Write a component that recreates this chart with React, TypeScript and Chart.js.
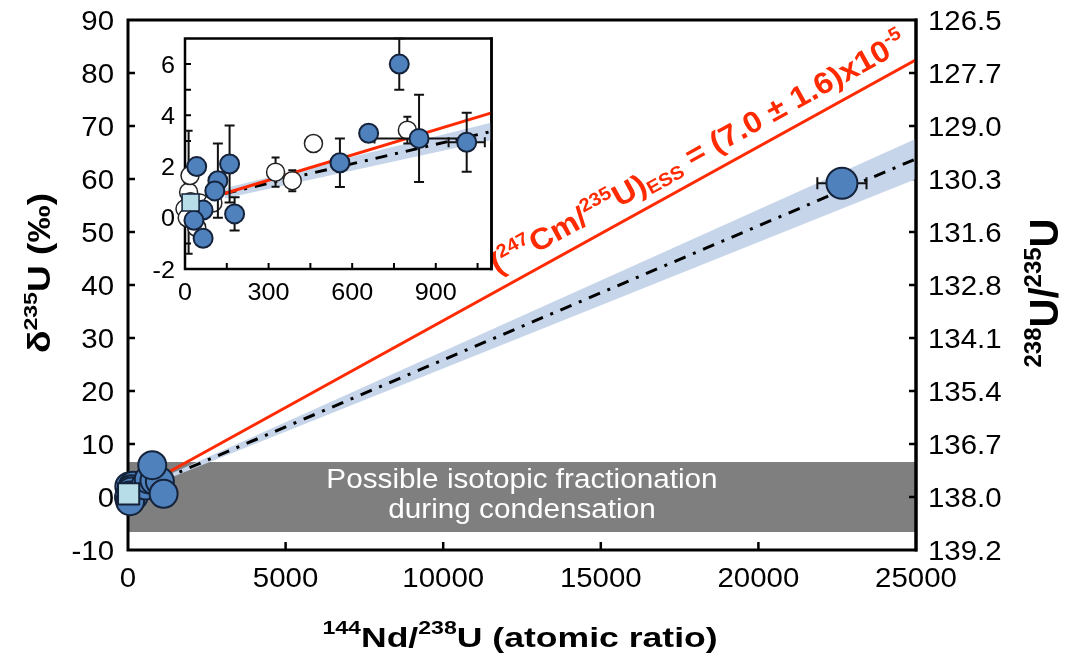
import React, { useEffect, useRef } from 'react';
import { Chart, registerables } from 'chart.js';
Chart.register(...registerables);

// ---------------- data ----------------
const xTicks = [0, 5000, 10000, 15000, 20000, 25000];
const xTickLabels = ['0', '5000', '10000', '15000', '20000', '25000'];
const yTicks = [-10, 0, 10, 20, 30, 40, 50, 60, 70, 80, 90];
const yTickLabels = ['-10', '0', '10', '20', '30', '40', '50', '60', '70', '80', '90'];
const rightTickLabels = ['139.2', '138.0', '136.7', '135.4', '134.1', '132.8', '131.6', '130.3', '129.0', '127.7', '126.5'];

const insetXTicks = [0, 150, 300, 450, 600, 750, 900, 1050];
const insetXLabels = ['0', '', '300', '', '600', '', '900', ''];
const insetYTicks = [-2, -1, 0, 1, 2, 3, 4, 5, 6, 7];
const insetYLabels = ['-2', '', '0', '', '2', '', '4', '', '6', ''];

// fractionation zone (delta 235U)
const fractionationZone = [-6.6, 6.6];

// fitted lines (end points)
const lineX = [142, 25000];
const redLineY = [0.95, 82.5];
const trendLineY = [0.95, 63.8];
const bandUpperY = [1.15, 67.6];
const bandLowerY = [0.75, 60.0];

// blue (filled) samples
const blueX = [42, 160, 178, 118, 107, 65, 32, 65, 556, 659, 840, 1011, 769];
const blueY = [2.0, 2.1, 0.15, 1.45, 1.05, 0.3, -0.1, -0.8, 2.15, 3.3, 3.1, 2.95, 6.0];
const blueErrY = [0, 1.5, 0.65, 1.45, 0, 0, 0, 0, 0.95, 0, 1.7, 1.15, 1.0];
const blueErrX = [0, 0, 0, 0, 0, 0, 0, 0, 0, 0, 160, 65, 0];

// white (open) samples
const whiteX = [325, 385, 461, 798, 13, 18, 20, 0, 53, 42, 100, 8];
const whiteY = [1.78, 1.45, 2.9, 3.42, 1.0, 1.65, 0.63, 0.35, 0.58, -0.38, 0.58, 0.0];
const whiteErrY = [0.57, 0.41, 0, 0.52, 2.4, 0, 0, 0, 0, 0, 0, 0];
const whiteErrX = [0, 0, 0, 20, 0, 0, 0, 0, 0, 0, 0, 0];

// extra samples visible only in main panel
const extraX = [1130];
const extraY = [0.6];

// high Nd/U sample
const bigX = [22650];
const bigY = [59.2];
const bigErrX = [780];

// reference square
const squareX = [20];
const squareY = [0.6];

// ---------------- helpers ----------------
const FONT = "'Liberation Sans', Arial, Helvetica, sans-serif";
type Mode = 'n' | 'sup' | 'sub';
type Seg = [string, Mode];

function drawRich(
  ctx: CanvasRenderingContext2D,
  segs: Seg[],
  x: number,
  y: number,
  o: { size: number; bold?: boolean; color: string; align?: 'left' | 'center' | 'right'; stretch?: number; rotate?: number; supScale?: number; supRise?: number; subDrop?: number }
) {
  const weight = o.bold ? 'bold ' : '';
  const sc = o.supScale ?? 0.62;
  const fontFor = (m: Mode) => `${weight}${m === 'n' ? o.size : (o.size * sc).toFixed(1)}px ${FONT}`;
  let total = 0;
  const widths = segs.map(([t, m]) => {
    ctx.font = fontFor(m);
    const w = ctx.measureText(t).width;
    total += w;
    return w;
  });
  ctx.save();
  ctx.translate(x, y);
  if (o.rotate) ctx.rotate(o.rotate);
  ctx.scale(o.stretch ?? 1, 1);
  let cx = o.align === 'center' ? -total / 2 : o.align === 'right' ? -total : 0;
  ctx.fillStyle = o.color;
  ctx.textBaseline = 'alphabetic';
  ctx.textAlign = 'left';
  segs.forEach(([t, m], i) => {
    ctx.font = fontFor(m);
    const dy = m === 'sup' ? -(o.supRise ?? 0.42) * o.size : m === 'sub' ? (o.subDrop ?? 0.15) * o.size : 0;
    ctx.fillText(t, cx, dy);
    cx += widths[i];
  });
  ctx.restore();
}

const pts = (xs: number[], ys: number[]) => xs.map((x, i) => ({ x, y: ys[i] }));

const errorBarPlugin = {
  id: 'errorBars',
  beforeDatasetDraw(chart: any, args: any) {
    const ds: any = chart.data.datasets[args.index];
    if (!ds.errY && !ds.errX) return;
    const ctx: CanvasRenderingContext2D = chart.ctx;
    const xs = chart.scales.x;
    const ys = chart.scales.y;
    const cap = ds.capSize ?? 5;
    ctx.save();
    ctx.strokeStyle = '#111';
    ctx.lineWidth = ds.errWidth ?? 2;
    ds.data.forEach((p: any, i: number) => {
      const px = xs.getPixelForValue(p.x);
      const py = ys.getPixelForValue(p.y);
      const ey = ds.errY ? ds.errY[i] : 0;
      const ex = ds.errX ? ds.errX[i] : 0;
      ctx.beginPath();
      if (ey > 0) {
        const y1 = ys.getPixelForValue(p.y + ey);
        const y2 = ys.getPixelForValue(p.y - ey);
        ctx.moveTo(px, y1); ctx.lineTo(px, y2);
        ctx.moveTo(px - cap, y1); ctx.lineTo(px + cap, y1);
        ctx.moveTo(px - cap, y2); ctx.lineTo(px + cap, y2);
      }
      if (ex > 0) {
        const x1 = xs.getPixelForValue(p.x - ex);
        const x2 = xs.getPixelForValue(p.x + ex);
        ctx.moveTo(x1, py); ctx.lineTo(x2, py);
        ctx.moveTo(x1, py - cap); ctx.lineTo(x1, py + cap);
        ctx.moveTo(x2, py - cap); ctx.lineTo(x2, py + cap);
      }
      ctx.stroke();
    });
    ctx.restore();
  },
};

const BLUE = '#4f81bd';
const BLUE_EDGE = '#14223a';
const BAND = '#c6d5ea';
const RED = '#ff2a00';

function lineDatasets() {
  return [
    { label: 'bandLower', data: pts(lineX, bandLowerY), showLine: true, pointRadius: 0, borderWidth: 0, borderColor: 'rgba(0,0,0,0)', fill: false, order: 10 },
    { label: 'bandUpper', data: pts(lineX, bandUpperY), showLine: true, pointRadius: 0, borderWidth: 0, borderColor: 'rgba(0,0,0,0)', backgroundColor: BAND, fill: '-1', order: 9 },
    { label: 'trend', data: pts(lineX, trendLineY), showLine: true, pointRadius: 0, borderWidth: 3, borderColor: '#000', borderDash: [12, 8, 3, 8], fill: false, order: 8 },
    { label: 'red', data: pts(lineX, redLineY), showLine: true, pointRadius: 0, borderWidth: 3, borderColor: RED, fill: false, order: 7 },
  ];
}

export default function App() {
  const mainRef = useRef<HTMLCanvasElement>(null);
  const insetRef = useRef<HTMLCanvasElement>(null);

  useEffect(() => {
    // ---------- main chart ----------
    const mainDecor = {
      id: 'mainDecor',
      beforeDatasetsDraw(chart: any) {
        const ctx: CanvasRenderingContext2D = chart.ctx;
        const { left, right, top, bottom } = chart.chartArea;
        const xs = chart.scales.x;
        const ys = chart.scales.y;
        // gray zone
        const gy1 = ys.getPixelForValue(fractionationZone[1]);
        const gy2 = ys.getPixelForValue(fractionationZone[0]);
        ctx.save();
        ctx.fillStyle = '#7f7f7f';
        ctx.fillRect(left, gy1, right - left, gy2 - gy1);
        const gc = (gy1 + gy2) / 2;
        drawRich(ctx, [['Possible isotopic fractionation', 'n']], (left + right) / 2, gc - 9, { size: 27, color: '#fff', align: 'center', stretch: 1.1 });
        drawRich(ctx, [['during condensation', 'n']], (left + right) / 2, gc + 21, { size: 27, color: '#fff', align: 'center', stretch: 1.1 });
        // frame
        ctx.strokeStyle = '#000';
        ctx.lineWidth = 3;
        ctx.strokeRect(left, top, right - left, bottom - top);
        ctx.lineWidth = 2.5;
        ctx.beginPath();
        yTicks.forEach((v) => {
          const py = ys.getPixelForValue(v);
          if (py <= top + 1 || py >= bottom - 1) return;
          ctx.moveTo(left, py); ctx.lineTo(left + 7, py);
          ctx.moveTo(right, py); ctx.lineTo(right - 7, py);
        });
        xTicks.forEach((v) => {
          const px = xs.getPixelForValue(v);
          if (px <= left + 1 || px >= right - 1) return;
          ctx.moveTo(px, bottom); ctx.lineTo(px, bottom - 8);
        });
        ctx.stroke();
        // tick labels
        yTicks.forEach((v, i) => {
          const py = ys.getPixelForValue(v);
          drawRich(ctx, [[yTickLabels[i], 'n']], left - 14, py + 9.5, { size: 27, color: '#000', align: 'right', stretch: 1.09 });
          drawRich(ctx, [[rightTickLabels[i], 'n']], right + 12, py + 9.5, { size: 27, color: '#000', align: 'left', stretch: 1.09 });
        });
        xTicks.forEach((v, i) => {
          const px = xs.getPixelForValue(v);
          drawRich(ctx, [[xTickLabels[i], 'n']], px, bottom + 37, { size: 27, color: '#000', align: 'center', stretch: 1.09 });
        });
        // axis titles
        drawRich(ctx, [['144', 'sup'], ['Nd/', 'n'], ['238', 'sup'], ['U (atomic ratio)', 'n']], (left + right) / 2 - 2, 647, { size: 28, bold: true, color: '#000', align: 'center', stretch: 1.27, supScale: 0.65, supRise: 0.45 });
        drawRich(ctx, [['δ', 'n'], ['235', 'sup'], ['U (‰)', 'n']], 50, (top + bottom) / 2 - 12, { size: 31, bold: true, color: '#000', align: 'center', stretch: 1.2, rotate: -Math.PI / 2, supScale: 0.62, supRise: 0.42 });
        drawRich(ctx, [['238', 'sup'], ['U/', 'n'], ['235', 'sup'], ['U', 'n']], 1058, (top + bottom) / 2 + 8, { size: 40, bold: true, color: '#000', align: 'center', stretch: 1.0, rotate: -Math.PI / 2, supScale: 0.6, supRise: 0.42 });
        ctx.restore();
      },
      afterDatasetsDraw(chart: any) {
        const ctx: CanvasRenderingContext2D = chart.ctx;
        const { right, top, bottom } = chart.chartArea;
        const xs = chart.scales.x;
        const ys = chart.scales.y;
        ctx.save();
        ctx.strokeStyle = '#000';
        ctx.lineWidth = 3;
        ctx.beginPath();
        ctx.moveTo(right, top - 1.5); ctx.lineTo(right, bottom + 1.5);
        ctx.stroke();
        // red label along the red line
        const x1 = xs.getPixelForValue(lineX[0]);
        const y1 = ys.getPixelForValue(redLineY[0]);
        const x2 = xs.getPixelForValue(lineX[1]);
        const y2 = ys.getPixelForValue(redLineY[1]);
        const ang = Math.atan2(y2 - y1, x2 - x1);
        const t = (504 - x1) / (x2 - x1);
        const bx = x1 + t * (x2 - x1);
        const by = y1 + t * (y2 - y1);
        const off = 14;
        const sx = bx + off * Math.sin(ang);
        const sy = by - off * Math.cos(ang);
        drawRich(
          ctx,
          [['(', 'n'], ['247', 'sup'], ['Cm/', 'n'], ['235', 'sup'], ['U)', 'n'], ['ESS', 'sub'], [' = (7.0 ± 1.6)x10', 'n'], ['-5', 'sup']],
          sx, sy,
          { size: 30, bold: true, color: RED, align: 'left', stretch: 1.08, rotate: ang, supScale: 0.62, supRise: 0.42, subDrop: 0.14 }
        );
        ctx.restore();
      },
    };

    const main = new Chart(mainRef.current!, {
      type: 'scatter',
      data: {
        datasets: [
          ...lineDatasets(),
          { label: 'blue', data: pts([...blueX, ...extraX], [...blueY, ...extraY]), pointRadius: 14, pointBackgroundColor: BLUE, pointBorderColor: BLUE_EDGE, pointBorderWidth: 2, clip: false, order: 3 } as any,
          { label: 'big', data: pts(bigX, bigY), errX: bigErrX, capSize: 6, pointRadius: 15.5, pointBackgroundColor: BLUE, pointBorderColor: BLUE_EDGE, pointBorderWidth: 2, clip: false, order: 3 } as any,
          { label: 'square', data: pts(squareX, squareY), pointStyle: 'rect', pointRadius: 15, pointBackgroundColor: '#b7dde8', pointBorderColor: BLUE_EDGE, pointBorderWidth: 2, clip: false, order: 1 } as any,
        ],
      },
      options: {
        responsive: false,
        animation: false,
        devicePixelRatio: 1,
        events: [],
        layout: { padding: { left: 128, right: 151, top: 20, bottom: 103 } },
        plugins: { legend: { display: false }, tooltip: { enabled: false } },
        scales: {
          x: { type: 'linear', min: 0, max: 25000, display: false },
          y: { type: 'linear', min: -10, max: 90, display: false },
        },
      } as any,
      plugins: [mainDecor, errorBarPlugin],
    });

    // ---------- inset chart ----------
    const insetDecor = {
      id: 'insetDecor',
      beforeDatasetsDraw(chart: any) {
        const ctx: CanvasRenderingContext2D = chart.ctx;
        const { left, right, top, bottom } = chart.chartArea;
        const xs = chart.scales.x;
        const ys = chart.scales.y;
        ctx.save();
        ctx.fillStyle = '#fff';
        ctx.fillRect(left, top, right - left, bottom - top);
        ctx.strokeStyle = '#000';
        ctx.lineWidth = 2.5;
        ctx.strokeRect(left, top, right - left, bottom - top);
        ctx.lineWidth = 2;
        ctx.beginPath();
        insetYTicks.forEach((v) => {
          const py = ys.getPixelForValue(v);
          if (py <= top + 1 || py >= bottom - 1) return;
          ctx.moveTo(left, py); ctx.lineTo(left + 6, py);
        });
        insetXTicks.forEach((v) => {
          const px = xs.getPixelForValue(v);
          if (px <= left + 1 || px >= right - 1) return;
          ctx.moveTo(px, bottom); ctx.lineTo(px, bottom - 6);
        });
        ctx.stroke();
        insetYTicks.forEach((v, i) => {
          if (!insetYLabels[i]) return;
          drawRich(ctx, [[insetYLabels[i], 'n']], left - 10, ys.getPixelForValue(v) + 8.5, { size: 24, color: '#000', align: 'right', stretch: 1.05 });
        });
        insetXTicks.forEach((v, i) => {
          if (!insetXLabels[i]) return;
          drawRich(ctx, [[insetXLabels[i], 'n']], xs.getPixelForValue(v), bottom + 31, { size: 24, color: '#000', align: 'center', stretch: 1.05 });
        });
        ctx.restore();
      },
      afterDatasetsDraw(chart: any) {
        const ctx: CanvasRenderingContext2D = chart.ctx;
        const { right, top, bottom } = chart.chartArea;
        ctx.save();
        ctx.strokeStyle = '#000';
        ctx.lineWidth = 2.5;
        ctx.beginPath();
        ctx.moveTo(right, top - 1.25); ctx.lineTo(right, bottom + 1.25);
        ctx.stroke();
        ctx.restore();
      },
    };

    const inset = new Chart(insetRef.current!, {
      type: 'scatter',
      data: {
        datasets: [
          ...lineDatasets(),
          { label: 'white', data: pts(whiteX, whiteY), errY: whiteErrY, errX: whiteErrX, capSize: 4, pointRadius: 9, pointBackgroundColor: '#fff', pointBorderColor: '#222', pointBorderWidth: 1.5, clip: false, order: 4 } as any,
          { label: 'blue', data: pts(blueX, blueY), errY: blueErrY, errX: blueErrX, capSize: 5, pointRadius: 9.5, pointBackgroundColor: BLUE, pointBorderColor: BLUE_EDGE, pointBorderWidth: 2, clip: false, order: 3 } as any,
          { label: 'square', data: pts(squareX, squareY), pointStyle: 'rect', pointRadius: 12, pointBackgroundColor: '#b7dde8', pointBorderColor: BLUE_EDGE, pointBorderWidth: 1.5, clip: false, order: 1 } as any,
        ],
      },
      options: {
        responsive: false,
        animation: false,
        devicePixelRatio: 1,
        events: [],
        layout: { padding: { left: 45, right: 12, top: 8, bottom: 46 } },
        plugins: { legend: { display: false }, tooltip: { enabled: false } },
        scales: {
          x: { type: 'linear', min: 0, max: 1100, display: false },
          y: { type: 'linear', min: -2, max: 7, display: false },
        },
      } as any,
      plugins: [insetDecor, errorBarPlugin],
    });

    return () => {
      main.destroy();
      inset.destroy();
    };
  }, []);

  return (
    <div style={{ position: 'absolute', left: 0, top: 0, width: 1067, height: 653, background: '#fff', overflow: 'hidden' }}>
      <canvas ref={mainRef} width={1067} height={653} style={{ position: 'absolute', left: 0, top: 0, width: 1067, height: 653 }} />
      <canvas ref={insetRef} width={365} height={290} style={{ position: 'absolute', left: 140, top: 25, width: 365, height: 290 }} />
    </div>
  );
}
